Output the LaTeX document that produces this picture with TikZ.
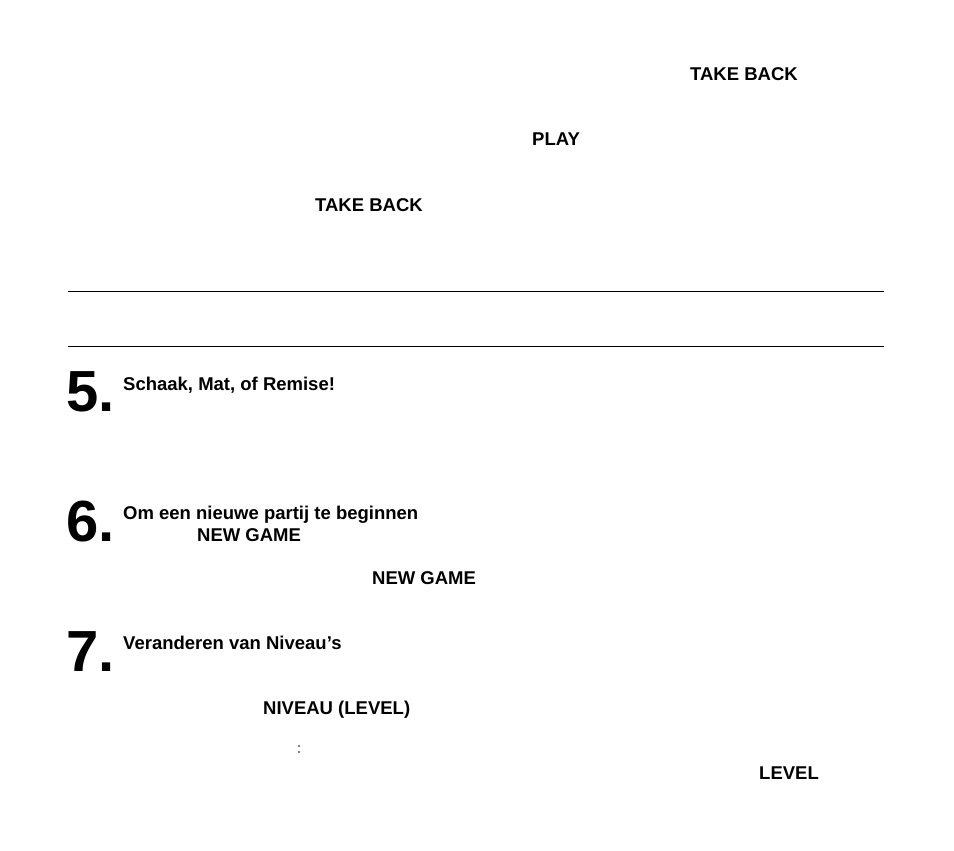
\documentclass[tikz,border=0pt]{standalone}
\usepackage{fontspec}
\setmainfont{Liberation Sans}
\tikzset{
		>=stealth,
		label/.style={font=\bfseries\fontsize{18.5}{20}\selectfont, anchor=base west, inner sep=0pt},
		bignum/.style={font=\bfseries\fontsize{58}{60}\selectfont, anchor=base west, inner sep=0pt},
		rule/.style={line width=0.7pt},
		seg/.style={line width=1pt}
	}
% seven segment glyph: x, y, list of segments
\newcommand{\lcdglyph}[3]{%
  \begin{scope}[shift={(#1,#2)}]
    \foreach \s in {#3}{
      \ifx\s a\draw[seg] (0,0) -- (8,0);\fi
      \ifx\s b\draw[seg] (8,0) -- (8,6.5);\fi
      \ifx\s c\draw[seg] (8,7.5) -- (8,14);\fi
      \ifx\s d\draw[seg] (0,14) -- (8,14);\fi
      \ifx\s e\draw[seg] (0,7.5) -- (0,14);\fi
      \ifx\s f\draw[seg] (0,0) -- (0,6.5);\fi
      \ifx\s g\draw[seg] (0,7) -- (8,7);\fi
    }
  \end{scope}}
\begin{document}
\begin{tikzpicture}[x=1pt,y=-1pt]
          \useasboundingbox (0,0) rectangle (954,851);

          \node[label] (tb1) at (690,81) {TAKE BACK};
          \node[label] (play) at (532,146) {PLAY};
          \node[label] (tb2) at (315,211) {TAKE BACK};

          \draw[rule] (68,291) -- (884,291);
          \draw[rule] (68,346) -- (884,346);

          \node[bignum] (n5) at (66,411) {5.};
          \node[label] (schaak) at (123,390) {Schaak, Mat, of Remise!};

          \node[bignum] (n6) at (66,541) {6.};
          \node[label] (nieuw) at (123,519) {Om een nieuwe partij te beginnen};
          \node[label] (ng1) at (197,541) {NEW GAME};
          \node[label] (ng2) at (372,584) {NEW GAME};

          \node[bignum] (n7) at (66,671) {7.};
          \node[label] (niv) at (123,649) {Veranderen van Niveau’s};
          \node[label] (level1) at (263,714) {NIVEAU (LEVEL)};
          \node[label] (level2) at (759,779) {LEVEL};

          % L:A3
          \lcdglyph{288}{742}{f,e,d}
          \fill (299,746) circle (0.9) (299,752) circle (0.9);
          \lcdglyph{304}{742}{a,b,c,e,f,g}
          \lcdglyph{317}{742}{a,b,c,d,g}
          % Fun3
          \lcdglyph{478}{742}{a,f,e,g}
          \lcdglyph{491}{742}{e,d,c}
          \lcdglyph{503}{742}{g,e,c}
          \lcdglyph{516}{742}{a,b,c,d,g}
\end{tikzpicture}
\end{document}
